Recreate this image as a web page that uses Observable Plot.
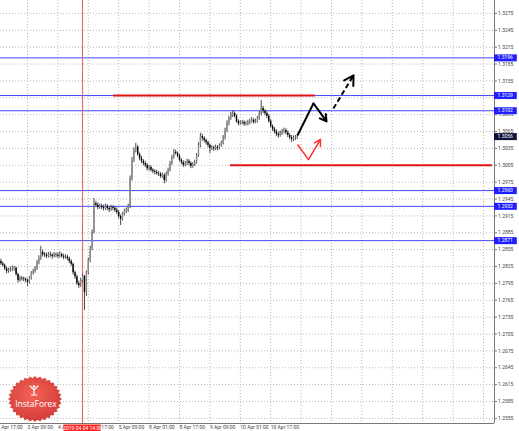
<!DOCTYPE html>
<html><head><meta charset="utf-8">
<script src="https://cdn.jsdelivr.net/npm/d3@7"></script>
<script src="https://cdn.jsdelivr.net/npm/@observablehq/plot@0.6"></script>
<style>body{margin:0;background:#fff;}svg{display:block;}</style>
</head><body><div id="chart"></div>
<script>
// H1 candles; bar i sits at hour index i + 2 (hours of trading since 2 Apr 17:00)
const barStartHour = 2;
const open = [
1.2834,1.2830,1.2827,1.2821,1.2816,1.2818,1.2819,1.2821,1.2822,1.2811,
1.2800,1.2804,1.2803,1.2802,1.2800,1.2797,1.2804,1.2813,1.2816,1.2821,
1.2832,1.2839,1.2850,1.2846,1.2845,1.2843,1.2846,1.2845,1.2843,1.2846,
1.2845,1.2843,1.2846,1.2843,1.2841,1.2842,1.2839,1.2834,1.2829,1.2814,
1.2807,1.2795,1.2791,1.2800,1.2807,1.2779,1.2814,1.2836,1.2857,1.2886,
1.2937,1.2934,1.2930,1.2932,1.2930,1.2928,1.2932,1.2928,1.2926,1.2930,
1.2928,1.2925,1.2921,1.2914,1.2909,1.2918,1.2923,1.2925,1.2932,1.2982,
1.3014,1.3031,1.3037,1.3024,1.3017,1.3012,1.3008,1.3005,1.2999,1.3001,
1.2996,1.2994,1.2992,1.2990,1.2989,1.2985,1.2987,1.2978,1.2989,1.2996,
1.3008,1.3019,1.3028,1.3026,1.3021,1.3014,1.3010,1.3005,1.3008,1.3012,
1.3008,1.3003,1.3006,1.3010,1.3022,1.3040,1.3056,1.3053,1.3049,1.3045,
1.3040,1.3035,1.3036,1.3034,1.3037,1.3035,1.3040,1.3044,1.3054,1.3067,
1.3079,1.3088,1.3094,1.3097,1.3092,1.3083,1.3079,1.3080,1.3081,1.3078,
1.3079,1.3081,1.3083,1.3085,1.3081,1.3083,1.3088,1.3097,1.3106,1.3101,
1.3097,1.3092,1.3083,1.3074,1.3069,1.3065,1.3060,1.3058,1.3062,1.3065,
1.3067,1.3063,1.3058,1.3054,1.3051,1.3053,1.3054];
const high = [
1.2838,1.2833,1.2829,1.2824,1.2822,1.2824,1.2826,1.2825,1.2824,1.2813,
1.2808,1.2807,1.2806,1.2805,1.2803,1.2807,1.2816,1.2820,1.2825,1.2836,
1.2844,1.2861,1.2854,1.2850,1.2849,1.2850,1.2851,1.2848,1.2850,1.2849,
1.2849,1.2851,1.2849,1.2847,1.2846,1.2845,1.2842,1.2837,1.2831,1.2817,
1.2810,1.2799,1.2804,1.2811,1.2809,1.2817,1.2840,1.2861,1.2890,1.2946,
1.2941,1.2938,1.2936,1.2936,1.2934,1.2936,1.2935,1.2932,1.2934,1.2933,
1.2932,1.2929,1.2924,1.2917,1.2921,1.2927,1.2929,1.2936,1.2986,1.3019,
1.3036,1.3044,1.3040,1.3027,1.3021,1.3015,1.3012,1.3008,1.3005,1.3004,
1.2999,1.2997,1.2996,1.2994,1.2992,1.2991,1.2990,1.2993,1.3000,1.3012,
1.3023,1.3033,1.3032,1.3029,1.3024,1.3017,1.3013,1.3012,1.3016,1.3015,
1.3011,1.3010,1.3014,1.3026,1.3045,1.3062,1.3060,1.3056,1.3052,1.3048,
1.3043,1.3040,1.3039,1.3041,1.3040,1.3043,1.3048,1.3058,1.3071,1.3084,
1.3092,1.3099,1.3102,1.3100,1.3095,1.3086,1.3084,1.3085,1.3084,1.3083,
1.3085,1.3087,1.3090,1.3088,1.3087,1.3092,1.3101,1.3120,1.3110,1.3104,
1.3100,1.3095,1.3086,1.3077,1.3072,1.3068,1.3064,1.3066,1.3069,1.3071,
1.3070,1.3066,1.3061,1.3058,1.3057,1.3058,1.3060];
const low = [
1.2827,1.2824,1.2818,1.2812,1.2813,1.2815,1.2816,1.2817,1.2808,1.2796,
1.2797,1.2799,1.2798,1.2796,1.2789,1.2794,1.2801,1.2810,1.2813,1.2818,
1.2828,1.2836,1.2842,1.2841,1.2839,1.2840,1.2841,1.2838,1.2840,1.2841,
1.2839,1.2840,1.2840,1.2837,1.2838,1.2835,1.2830,1.2825,1.2810,1.2802,
1.2791,1.2786,1.2788,1.2797,1.2747,1.2772,1.2810,1.2832,1.2853,1.2883,
1.2930,1.2926,1.2927,1.2926,1.2924,1.2925,1.2924,1.2921,1.2923,1.2924,
1.2921,1.2917,1.2910,1.2898,1.2906,1.2915,1.2919,1.2921,1.2928,1.2977,
1.3010,1.3027,1.3021,1.3013,1.3008,1.3004,1.3001,1.2995,1.2995,1.2993,
1.2990,1.2988,1.2987,1.2985,1.2982,1.2982,1.2972,1.2975,1.2986,1.2993,
1.3005,1.3016,1.3023,1.3018,1.3011,1.3006,1.3001,1.3002,1.3005,1.3004,
1.2999,1.3000,1.3003,1.3007,1.3019,1.3036,1.3048,1.3045,1.3041,1.3036,
1.3026,1.3031,1.3030,1.3031,1.3031,1.3032,1.3037,1.3041,1.3050,1.3063,
1.3075,1.3085,1.3090,1.3089,1.3080,1.3075,1.3076,1.3077,1.3074,1.3075,
1.3075,1.3077,1.3080,1.3078,1.3079,1.3080,1.3085,1.3093,1.3097,1.3093,
1.3088,1.3080,1.3071,1.3065,1.3061,1.3056,1.3053,1.3055,1.3058,1.3061,
1.3059,1.3054,1.3050,1.3046,1.3047,1.3049,1.3051];
const close = [
1.2830,1.2827,1.2821,1.2816,1.2818,1.2819,1.2821,1.2822,1.2811,1.2800,
1.2804,1.2803,1.2802,1.2800,1.2797,1.2804,1.2813,1.2816,1.2821,1.2832,
1.2839,1.2850,1.2846,1.2845,1.2843,1.2846,1.2845,1.2843,1.2846,1.2845,
1.2843,1.2846,1.2843,1.2841,1.2842,1.2839,1.2834,1.2829,1.2814,1.2807,
1.2795,1.2791,1.2800,1.2807,1.2779,1.2814,1.2836,1.2857,1.2886,1.2937,
1.2934,1.2930,1.2932,1.2930,1.2928,1.2932,1.2928,1.2926,1.2930,1.2928,
1.2925,1.2921,1.2914,1.2909,1.2918,1.2923,1.2925,1.2932,1.2982,1.3014,
1.3031,1.3037,1.3024,1.3017,1.3012,1.3008,1.3005,1.2999,1.3001,1.2996,
1.2994,1.2992,1.2990,1.2989,1.2985,1.2987,1.2978,1.2989,1.2996,1.3008,
1.3019,1.3028,1.3026,1.3021,1.3014,1.3010,1.3005,1.3008,1.3012,1.3008,
1.3003,1.3006,1.3010,1.3022,1.3040,1.3056,1.3053,1.3049,1.3045,1.3040,
1.3035,1.3036,1.3034,1.3037,1.3035,1.3040,1.3044,1.3054,1.3067,1.3079,
1.3088,1.3094,1.3097,1.3092,1.3083,1.3079,1.3080,1.3081,1.3078,1.3079,
1.3081,1.3083,1.3085,1.3081,1.3083,1.3088,1.3097,1.3106,1.3101,1.3097,
1.3092,1.3083,1.3074,1.3069,1.3065,1.3060,1.3058,1.3062,1.3065,1.3067,
1.3063,1.3058,1.3054,1.3051,1.3053,1.3054,1.3056];

const timeTickHours  = [0,16,32,48,64,80,96,112,128,144];
const timeTickLabels = ["2 Apr 17:00","3 Apr 09:00","4 Apr 01:00","4 Apr 17:00","5 Apr 09:00","8 Apr 01:00","8 Apr 17:00","9 Apr 09:00","10 Apr 01:00","10 Apr 17:00"];
const gridHours = [0,16,32,48,64,80,96,112,128,144,160,176,192,208,224,240,256];
const priceTicks = [1.2555,1.2585,1.2615,1.2645,1.2675,1.2705,1.2735,1.2765,1.2795,1.2825,1.2855,1.2885,1.2915,1.2945,1.2975,1.3005,1.3035,1.3065,1.3095,1.3125,1.3155,1.3185,1.3215,1.3245,1.3275];
const blueLevels = [1.3196,1.3129,1.3102,1.2960,1.2932,1.2871];
const redLevels = [{h1:61.3,h2:167.6,p:1.3129},{h1:122.8,h2:260.7,p:1.3005}];
const cursorHour = 45;
const cursorLabel = "2019.04.04 14:00";
const lastPrice = 1.3056;
const blackPath = [{h:158.1,p:1.3058},{h:166.5,p:1.3115},{h:173.4,p:1.3083}];
const dashedArrow = [{h1:177.0,p1:1.3106,h2:187.6,p2:1.3165}];
const redPath = [{h:158.1,p:1.3042},{h:163.9,p:1.3015},{h:170.2,p:1.3051}];

const xDomain = [1.79, 261.79];
const yDomain = [1.25459, 1.3298];
const bars = close.map((c,i)=>({h:i+barStartHour,o:open[i],hi:high[i],lo:low[i],c,col:c>=open[i]?"#8c8c8c":"#000"}));
const seg = (pts,a,b)=>[{h1:pts[a].h,p1:pts[a].p,h2:pts[b].h,p2:pts[b].p}];
const font = "Roboto, 'Liberation Sans', Arial, sans-serif";

const chart = Plot.plot({
  width:519, height:431,
  marginLeft:0, marginRight:25, marginTop:0, marginBottom:8,
  style:{fontFamily:font, fontSize:"5px", background:"#fff"},
  x:{domain:xDomain, axis:null},
  y:{domain:yDomain, axis:null},
  marks:[
    Plot.gridX(gridHours,{stroke:"#b8b8b8",strokeOpacity:1,strokeDasharray:"1,2"}),
    Plot.gridY(priceTicks,{stroke:"#b8b8b8",strokeOpacity:1,strokeDasharray:"1,2"}),
    Plot.ruleY(blueLevels,{stroke:"#4646ff",strokeWidth:1}),
    Plot.ruleX([cursorHour],{stroke:"#f25555",strokeWidth:1}),
    Plot.ruleY(redLevels,{y:"p",x1:"h1",x2:"h2",stroke:"#e01414",strokeWidth:2}),
    Plot.ruleX(bars,{x:"h",y1:"lo",y2:"hi",stroke:"#333",strokeWidth:0.9}),
    Plot.ruleX(bars,{x:"h",y1:"o",y2:"c",stroke:"col",strokeWidth:1.4}),
    Plot.link(seg(blackPath,0,1),{x1:"h1",y1:"p1",x2:"h2",y2:"p2",stroke:"#000",strokeWidth:2}),
    Plot.arrow(seg(blackPath,1,2),{x1:"h1",y1:"p1",x2:"h2",y2:"p2",stroke:"#000",strokeWidth:2,headLength:8}),
    Plot.link(dashedArrow,{x1:"h1",y1:"p1",x2:"h2",y2:"p2",stroke:"#000",strokeWidth:2,strokeDasharray:"5,3"}),
    Plot.arrow(dashedArrow,{x1:"h1",y1:"p1",x2:"h2",y2:"p2",stroke:"#000",strokeWidth:2,headLength:8,insetStart:35}),
    Plot.link(seg(redPath,0,1),{x1:"h1",y1:"p1",x2:"h2",y2:"p2",stroke:"#ff3030",strokeWidth:1.5}),
    Plot.arrow(seg(redPath,1,2),{x1:"h1",y1:"p1",x2:"h2",y2:"p2",stroke:"#ff3030",strokeWidth:1.5,headLength:7}),
    Plot.ruleX([xDomain[1]],{stroke:"#777"}),
    Plot.ruleY([yDomain[0]],{stroke:"#777"}),
    Plot.axisY({anchor:"right",ticks:priceTicks,tickFormat:d=>d.toFixed(4),tickSize:2,tickPadding:1.5,fontSize:5,fill:"#444",stroke:"#777"}),
    Plot.axisX({anchor:"bottom",ticks:timeTickHours,tickFormat:d=>timeTickLabels[timeTickHours.indexOf(d)],tickSize:1,tickPadding:1,textAnchor:"start",fontSize:5,fill:"#444",stroke:"#777"}),
    // blue price tags on the right
    Plot.ruleY(blueLevels,{y:d=>d,x1:xDomain[1],x2:xDomain[1]+12,stroke:"#1e1eff",strokeWidth:7}),
    Plot.text(blueLevels,{y:d=>d,x:xDomain[1],text:d=>d.toFixed(4),dx:3,textAnchor:"start",fill:"#fff",fontSize:5}),
    Plot.ruleY([lastPrice],{x1:xDomain[1],x2:xDomain[1]+12,stroke:"#10103a",strokeWidth:7}),
    Plot.text([lastPrice],{y:d=>d,x:xDomain[1],text:d=>d.toFixed(4),dx:3,textAnchor:"start",fill:"#fff",fontSize:5}),
    // red time tag at the cursor
    Plot.ruleY([yDomain[0]],{dy:4.5,x1:cursorHour-9.8,x2:cursorHour+9.8,stroke:"#ff2222",strokeWidth:7}),
    Plot.text([cursorLabel],{x:cursorHour,y:yDomain[0],dy:4.7,text:d=>d,fill:"#fff",fontSize:5})
  ]
});
document.getElementById("chart").appendChild(chart);

// InstaForex badge (decoration)
const svg = d3.select(chart);
const defs = svg.append("defs");
const grad = defs.append("radialGradient").attr("id","bg").attr("cx","45%").attr("cy","40%").attr("r","65%");
grad.append("stop").attr("offset","0%").attr("stop-color","#f25a4e");
grad.append("stop").attr("offset","100%").attr("stop-color","#cf2f2c");
const g = svg.append("g").attr("transform","translate(35,399)");
const n = 32, ro = 27, ri = 24.5, sy = 23/27;
const pts = d3.range(2*n).map(k=>{const a=k*Math.PI/n - Math.PI/2, r=k%2?ri:ro; return [r*Math.cos(a), r*Math.sin(a)*sy];});
g.append("path").attr("d","M"+pts.map(p=>p.join(",")).join("L")+"Z").attr("fill","url(#bg)").attr("opacity",0.95);
const ic = g.append("g").attr("transform","translate(-1,-9)").attr("stroke","#fff").attr("fill","none").attr("stroke-width",1.2).attr("stroke-linecap","round");
ic.append("path").attr("d","M-4,-4 L0,0 L4,-4 M0,0 L0,5 M-2.5,5 L2.5,5");
ic.append("circle").attr("cx",0).attr("cy",-3.5).attr("r",1.3).attr("fill","#fff").attr("stroke","none");
g.append("text").attr("x",1).attr("y",8).attr("text-anchor","middle").attr("fill","#fff")
 .attr("font-family","'Open Sans', Roboto, Arial, sans-serif").attr("font-size",8.5).text("InstaForex");
</script></body></html>
